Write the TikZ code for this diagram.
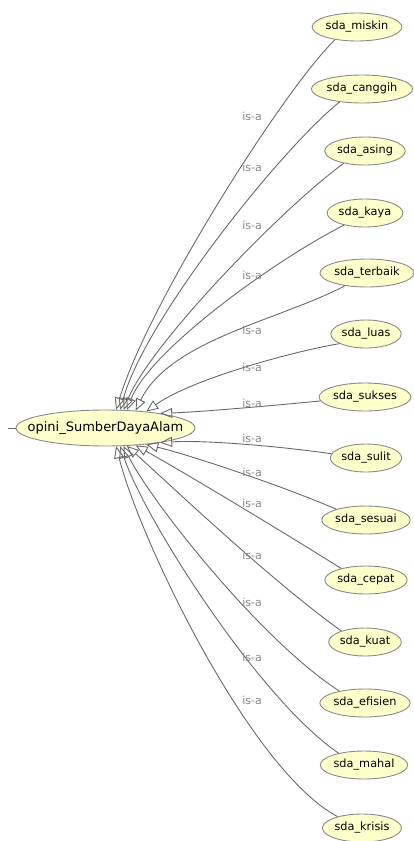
\documentclass[tikz,border=0pt]{standalone}
\usepackage{fontspec}
\setmainfont{DejaVu Sans}
\usetikzlibrary{shapes.geometric,arrows.meta}
\definecolor{nodefill}{HTML}{FFFFCC}
\definecolor{nodeline}{HTML}{8A8A8A}
\definecolor{edgeline}{HTML}{6A6A6A}
\definecolor{labelgrey}{HTML}{888888}

\begin{document}
\begin{tikzpicture}[x=1pt,y=-1pt,
  cls/.style={ellipse, draw=nodeline, fill=nodefill, line width=0.9pt,
    inner xsep=0.5pt, inner ysep=0pt, minimum height=28pt,
    font=\fontsize{11.3}{13}\selectfont},
  root/.style={ellipse, draw=nodeline, fill=nodefill, line width=0.9pt,
    inner sep=0pt, minimum width=179pt, minimum height=36pt,
    font=\fontsize{13}{15}\selectfont},
  isa/.style={draw=edgeline, line width=0.9pt,
    -{Triangle[open, length=12pt, width=10pt]}},
  lbl/.style={font=\fontsize{11}{12}\selectfont, text=labelgrey, inner sep=0pt}
]
\useasboundingbox (0,0) rectangle (414,841);

% subclasses, top to bottom
\node[cls] (n1)  at (357,27)  {sda\_miskin};
\node[cls] (n2)  at (362,89)  {sda\_canggih};
\node[cls] (n3)  at (365,151) {sda\_asing};
\node[cls] (n4)  at (365,213) {sda\_kaya};
\node[cls] (n5)  at (367,273) {sda\_terbaik};
\node[cls] (n6)  at (366,334) {sda\_luas};
\node[cls] (n7)  at (365,397) {sda\_sukses};
\node[cls] (n8)  at (366,458) {sda\_sulit};
\node[cls] (n9)  at (366,520) {sda\_sesuai};
\node[cls] (n10) at (366,580) {sda\_cepat};
\node[cls] (n11) at (365,642) {sda\_kuat};
\node[cls] (n12) at (365,703) {sda\_efisien};
\node[cls] (n13) at (364,765) {sda\_mahal};
\node[cls] (n14) at (362,828) {sda\_krisis};

% superclass
\node[root] (opini) at (105.5,428) {\makebox[0pt]{opini\_SumberDayaAlam}};
\coordinate (stub) at (8,428);
\draw[edgeline, line width=0.9pt] (stub) -- (opini.west);

% is-a edges, upper group
\draw[isa] (n1.210) .. controls (285,88)  and (150,300) .. (opini.60);
\draw[isa] (n2.210) .. controls (280,150) and (145,320) .. (opini.51);
\draw[isa] (n3.210) .. controls (280,210) and (150,345) .. (opini.45);
\draw[isa] (n4.210) .. controls (275,260) and (150,350) .. (opini.40);
\draw[isa] (n5.210) .. controls (280,320) and (170,340) .. (opini.30);
\draw[isa] (n6.200) .. controls (290,352) and (190,380) .. (opini.22);
\draw[isa] (n7.185) .. controls (280,405) and (200,412) .. (opini.15);
% is-a edges, lower group
\draw[isa] (n8.173)  .. controls (270,445) and (200,440) .. (opini.-15);
\draw[isa] (n9.160)  .. controls (280,485) and (190,455) .. (opini.-22);
\draw[isa] (n10.155) .. controls (280,530) and (180,470) .. (opini.-30);
\draw[isa] (n11.155) .. controls (270,580) and (165,480) .. (opini.-40);
\draw[isa] (n12.155) .. controls (260,640) and (150,500) .. (opini.-45);
\draw[isa] (n13.155) .. controls (260,700) and (145,520) .. (opini.-51);
\draw[isa] (n14.155) .. controls (250,770) and (140,540) .. (opini.-60);

% edge labels
\node[lbl] (l1)  at (252,116) {is-a};
\node[lbl] (l2)  at (252,167) {is-a};
\node[lbl] (l3)  at (252,225) {is-a};
\node[lbl] (l4)  at (252,275) {is-a};
\node[lbl] (l5)  at (252,330) {is-a};
\node[lbl] (l6)  at (252,367) {is-a};
\node[lbl] (l7)  at (252,403) {is-a};
\node[lbl] (l8)  at (252,438) {is-a};
\node[lbl] (l9)  at (252,472) {is-a};
\node[lbl] (l10) at (252,503) {is-a};
\node[lbl] (l11) at (252,555) {is-a};
\node[lbl] (l12) at (252,602) {is-a};
\node[lbl] (l13) at (252,657) {is-a};
\node[lbl] (l14) at (252,700) {is-a};
\end{tikzpicture}
\end{document}
